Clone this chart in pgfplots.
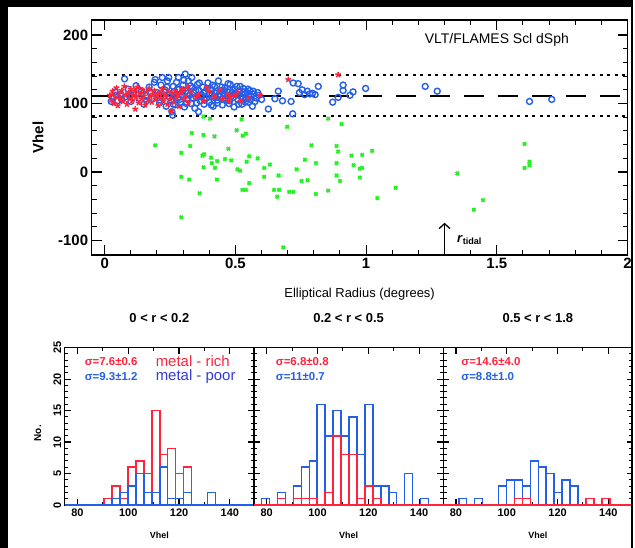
\documentclass[border=0pt]{standalone}
\usepackage{fontspec}
\setmainfont{Liberation Sans}
\usepackage{pgfplots}
\pgfplotsset{compat=1.18}
\usetikzlibrary{arrows.meta}
\definecolor{myred}{RGB}{255,35,60}
\definecolor{myblue}{RGB}{35,95,235}
\definecolor{mypoor}{RGB}{50,60,215}
\definecolor{mygreen}{RGB}{40,240,40}
\tikzset{sig/.style={anchor=west, inner sep=0pt, font=\fontsize{11.5}{13}\selectfont\bfseries}}
\pgfplotsset{
 hist/.style={
  anchor=south west, scale only axis, width=190pt, height=158pt,
  xmin=75, xmax=149.5, ymin=0, ymax=25,
  xtick={80,100,120,140}, minor x tick num=1,
  ytick={0,5,10,15,20,25}, minor y tick num=4,
  tick align=inside, major tick length=6pt, minor tick length=3.5pt,
  axis line style={line width=1.3pt},
  major tick style={line width=1.2pt, black}, minor tick style={line width=1pt, black},
  ticklabel style={font=\fontsize{11}{13}\selectfont\bfseries},
  /pgf/number format/assume math mode=true,
  xlabel={Vhel},
  xlabel style={font=\fontsize{9}{11}\selectfont\bfseries, at={(axis description cs:0.5,-0.19)}, anchor=center},
  title style={font=\fontsize{13}{15}\selectfont\bfseries, at={(axis description cs:0.5,1.152)}, anchor=center},
  clip=false,
 },
}
\begin{document}
\begin{tikzpicture}[x=1pt,y=1pt]
\fill[black] (0,0) rectangle (635,550);
\fill[white] (8,0) rectangle (633,543);

\begin{axis}[
 at={(92pt,294pt)}, anchor=south west, scale only axis, width=538pt, height=236pt,
 xmin=-0.05, xmax=2, ymin=-121, ymax=222,
 xtick={0,0.5,1,1.5,2}, minor x tick num=4,
 ytick={-100,0,100,200}, minor y tick num=4,
 tick align=inside, major tick length=10pt, minor tick length=5pt,
 major tick style={line width=1.2pt, black}, minor tick style={line width=1pt, black},
 axis line style={line width=1.3pt},
 ticklabel style={font=\fontsize{15}{17}\selectfont\bfseries},
 /pgf/number format/assume math mode=true,
 xlabel={Elliptical Radius (degrees)},
 xlabel style={font=\fontsize{13}{15}\selectfont, at={(axis description cs:0.5,-0.165)}, anchor=center},
 ylabel={Vhel},
 ylabel style={font=\fontsize{15}{17}\selectfont\bfseries, at={(axis description cs:-0.10,0.5)}, anchor=center},
]
\addplot[only marks, mark=x, mark size=2.3pt, mygreen, line width=1.9pt] table {
0.193 39
0.293 28
0.327 38
0.333 57
0.378 54
0.420 52
0.374 24
0.380 26
0.378 7
0.407 21
0.410 13
0.422 6
0.430 16
0.460 19
0.473 34
0.484 17
0.505 61
0.528 53
0.540 56
0.508 4
0.518 2
0.543 15
0.553 23
0.585 20
0.610 6
0.632 11
0.698 66
0.293 -7
0.323 -11
0.429 -11
0.363 -31
0.293 -66
0.527 -26
0.540 -26
0.553 -16
0.610 -7
0.648 -26
0.667 -26
0.660 -36
0.665 -5
0.706 -29
0.722 -29
0.734 4
0.753 -13
0.766 18
0.776 -12
0.791 39
0.808 13
0.808 -32
0.855 -27
0.887 38
0.893 30
0.887 13
0.887 -5
0.900 -13
0.855 78
0.906 70
0.944 24
0.952 10
0.976 5
0.985 6
0.976 -8
0.985 25
1.023 31
1.043 -38
1.113 -23
1.349 -2
1.412 -55
1.447 -41
1.606 41
1.606 6
1.625 15
1.625 10
0.683 -110
0.378 81
0.403 78
0.524 77
};
\addplot[only marks, mark=o, mark size=3pt, myblue, line width=1.4pt] table {
0.030 108
0.040 117
0.050 104
0.060 113
0.076 136
0.080 110
0.090 121
0.100 103
0.110 115
0.120 126
0.130 108
0.140 118
0.150 99
0.160 112
0.170 124
0.180 107
0.190 131
0.193 135
0.200 116
0.210 101
0.215 127
0.220 138
0.225 110
0.230 120
0.235 96
0.240 133
0.245 138
0.250 114
0.255 104
0.257 88
0.260 83
0.262 125
0.265 117
0.270 98
0.275 131
0.280 108
0.282 138
0.285 121
0.290 102
0.295 113
0.300 127
0.305 95
0.308 143
0.310 118
0.315 107
0.320 133
0.325 112
0.330 100
0.333 138
0.335 123
0.340 116
0.345 93
0.350 109
0.355 128
0.359 88
0.360 119
0.365 104
0.370 113
0.375 124
0.380 99
0.385 117
0.390 108
0.395 130
0.400 102
0.405 121
0.410 112
0.415 96
0.420 125
0.425 115
0.430 105
0.435 133
0.440 110
0.445 119
0.450 98
0.455 114
0.460 123
0.465 106
0.470 117
0.475 100
0.480 128
0.485 111
0.490 120
0.495 95
0.500 114
0.505 125
0.510 105
0.515 118
0.520 110
0.525 99
0.530 122
0.535 113
0.540 107
0.545 116
0.550 102
0.555 119
0.560 111
0.565 96
0.570 114
0.580 108
0.590 112
0.600 106
0.205 112
0.212 105
0.228 117
0.238 124
0.248 109
0.262 99
0.268 112
0.278 121
0.288 106
0.298 118
0.302 134
0.312 100
0.318 115
0.328 126
0.338 108
0.348 119
0.352 101
0.362 130
0.368 110
0.378 116
0.382 105
0.392 122
0.398 113
0.408 98
0.412 127
0.418 109
0.428 118
0.432 101
0.438 114
0.448 124
0.452 107
0.458 119
0.468 112
0.472 129
0.478 104
0.488 116
0.492 109
0.498 121
0.508 113
0.512 99
0.518 125
0.528 108
0.532 117
0.538 102
0.548 121
0.552 110
0.558 106
0.568 118
0.575 103
0.585 116
0.025 103
0.045 112
0.065 106
0.100 112
0.130 120
0.160 104
0.175 115
0.626 92
0.651 107
0.664 118
0.680 104
0.713 103
0.719 85
0.721 130
0.740 129
0.745 116
0.755 120
0.765 113
0.775 118
0.785 114
0.795 115
0.805 113
0.817 125
0.872 102
0.893 109
0.912 127
0.912 119
0.938 112
0.950 117
0.998 122
1.226 125
1.272 118
1.625 103
1.710 106
};
\addplot[only marks, mark=star, mark size=3pt, myred, line width=1.4pt] table {
0.020 112
0.025 105
0.030 118
0.035 100
0.040 110
0.045 123
0.050 97
0.055 114
0.060 107
0.065 119
0.070 103
0.075 125
0.080 112
0.085 99
0.090 116
0.095 108
0.100 121
0.105 104
0.110 113
0.115 118
0.117 92
0.120 109
0.125 124
0.130 101
0.135 115
0.140 107
0.145 120
0.150 111
0.155 98
0.160 117
0.165 105
0.170 122
0.175 110
0.180 102
0.185 114
0.190 119
0.195 106
0.200 112
0.205 97
0.210 116
0.215 108
0.220 121
0.225 103
0.230 113
0.235 110
0.240 99
0.245 117
0.250 106
0.255 89
0.260 114
0.265 102
0.270 119
0.275 109
0.280 112
0.285 96
0.290 115
0.300 121
0.305 107
0.310 111
0.318 125
0.320 101
0.330 117
0.350 109
0.360 113
0.380 104
0.390 123
0.400 118
0.420 110
0.440 120
0.450 106
0.470 114
0.475 103
0.480 109
0.500 112
0.510 117
0.520 103
0.550 108
0.594 112
0.702 135
0.893 142
};
\addplot[black, line width=1.6pt, dash pattern=on 20pt off 14pt] coordinates {(-0.05,111.4) (2,111.4)};
\addplot[black, line width=1.8pt, dash pattern=on 3pt off 4.5pt] coordinates {(-0.05,141.4) (2,141.4)};
\addplot[black, line width=1.8pt, dash pattern=on 3pt off 4.5pt] coordinates {(-0.05,81.4) (2,81.4)};
\draw[line width=1.3pt, -{Straight Barb[length=5pt,width=11pt]}] (axis cs:1.3,-121) -- (axis cs:1.3,-74);
\node[anchor=west, font=\fontsize{13}{15}\selectfont] at (axis cs:1.335,-99) {\textbf{\textit{r}}\textsubscript{\textbf{tidal}}};
\node[font=\fontsize{14}{16}\selectfont] at (axis cs:1.5,193) {VLT/FLAMES Scl dSph};
\end{axis}

% left histogram panel
\begin{axis}[hist, at={(65pt,43pt)},
 title={0 < r < 0.2},
 yticklabel style={rotate=90, anchor=south},
 ylabel={No.},
 ylabel style={font=\fontsize{10}{12}\selectfont\bfseries, at={(axis description cs:-0.142,0.456)}, anchor=center},
]
\addplot[ybar interval, draw=myred, fill=none, line width=1.5pt] coordinates {
(90.50,1) (93.63,3) (96.76,1) (99.89,6) (103.02,7) (106.15,5) (109.28,15) (112.41,8) (115.54,9) (118.67,5) (121.80,6) (124.93,0)};
\addplot[ybar interval, draw=myblue, fill=none, line width=1.5pt] coordinates {
(93.63,1) (96.76,2) (99.89,3) (103.02,5) (106.15,2) (109.28,2) (112.41,6) (115.54,1) (118.67,1) (121.80,2) (124.93,0) (128.06,0) (131.19,2) (134.32,0)};
\addplot[myblue, line width=1.5pt] coordinates {(75,0) (149.5,0)};
\node[sig, myred] at (axis description cs:0.105,0.911) {σ=7.6±0.6};
\node[sig, myblue] at (axis description cs:0.105,0.814) {σ=9.3±1.2};
\node[anchor=west, inner sep=0pt, myred, font=\fontsize{15}{16}\selectfont] at (axis description cs:0.48,0.913) {metal - rich};
\node[anchor=west, inner sep=0pt, mypoor, font=\fontsize{15}{16}\selectfont] at (axis description cs:0.48,0.818) {metal - poor};
\end{axis}

% middle histogram panel
\begin{axis}[hist, at={(255pt,43pt)},
 title={0.2 < r < 0.5},
 yticklabels={},
]
\addplot[ybar interval, draw=myblue, fill=none, line width=1.5pt] coordinates {
(77.98,1) (81.11,0) (84.24,2) (87.37,0) (90.50,3) (93.63,6) (96.76,7) (99.89,16) (103.02,11) (106.15,15) (109.28,11) (112.41,14) (115.54,8) (118.67,16) (121.80,3) (124.93,3) (128.06,2) (131.19,0) (134.32,5) (137.45,0) (140.58,1) (143.71,0)};
\addplot[ybar interval, draw=myred, fill=none, line width=1.5pt] coordinates {
(84.24,1) (87.37,0) (90.50,1) (93.63,1) (96.76,1) (99.89,0) (103.02,2) (106.15,11) (109.28,8) (112.41,8) (115.54,1) (118.67,3) (121.80,1) (124.93,0)};
\addplot[myred, line width=1.5pt] coordinates {(75,0) (149.5,0)};
\node[sig, myred] at (axis description cs:0.115,0.911) {σ=6.8±0.8};
\node[sig, myblue] at (axis description cs:0.115,0.814) {σ=11±0.7};
\end{axis}

% right histogram panel
\begin{axis}[hist, at={(445pt,43pt)},
 title={0.5 < r < 1.8},
 yticklabels={},
]
\addplot[ybar interval, draw=myblue, fill=none, line width=1.5pt] coordinates {
(81.11,1) (84.24,0) (87.37,1) (90.50,0) (93.63,0) (96.76,3) (99.89,4) (103.02,4) (106.15,3) (109.28,7) (112.41,6) (115.54,5) (118.67,2) (121.80,4) (124.93,3) (128.06,0)};
\addplot[ybar interval, draw=myred, fill=none, line width=1.5pt] coordinates {
(103.02,1) (106.15,1) (109.28,0) (112.41,0) (115.54,0) (118.67,0) (121.80,0) (124.93,0) (128.06,0) (131.19,1) (134.32,0) (137.45,1) (140.58,0)};
\addplot[myred, line width=1.5pt] coordinates {(75,0) (149.5,0)};
\node[sig, myred] at (axis description cs:0.095,0.911) {σ=14.6±4.0};
\node[sig, myblue] at (axis description cs:0.095,0.814) {σ=8.8±1.0};
\end{axis}

\fill[black] (0,543) rectangle (635,550);
\fill[black] (0,0) rectangle (8,550);
\fill[black] (633,0) rectangle (635,550);
\end{tikzpicture}
\end{document}
